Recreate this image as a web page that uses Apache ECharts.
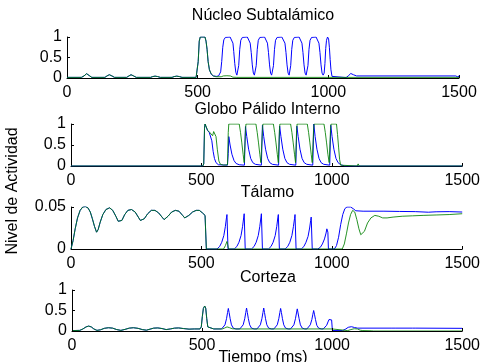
<!DOCTYPE html>
<html>
<head>
<meta charset="utf-8">
<script src="https://cdn.jsdelivr.net/npm/echarts@6/dist/echarts.min.js"></script>
<style>
html, body {margin: 0; padding: 0; background: #fff;}
#chart {width: 483px; height: 362px;}
</style>
</head>
<body>
<div id="chart"></div>
<script>
var titulos = ["Núcleo Subtalámico", "Globo Pálido Interno", "Tálamo", "Corteza"];
var ejeY = ["Nivel de Actividad"], ejeX = ["Tiempo (ms)"];
var maximos = [1, 1, 0.05, 1], pasos = [0.5, 0.5, 0.05, 0.5];

// [tiempo ms, actividad]
var nstComun = [[0,0.015],[55,0.015],[65,0.05],[75,0.105],[85,0.06],[95,0.015],[145,0.015],[153,0.05],[162,0.08],[172,0.05],[182,0.015],[228,0.015],[237,0.05],[245,0.08],[255,0.05],[265,0.015],[320,0.015],[328,0.035],[337,0.045],[347,0.035],[357,0.015],[402,0.015],[410,0.035],[420,0.045],[430,0.035],[440,0.015],[494,0.015],[498,0.05],[502,0.4],[506,0.9],[510,1.0],[528,1.0],[532,0.9],[536,0.7],[540,0.4],[545,0.2]];
var nstAzul = [[552,0.09],[560,0.05],[572,0.04],[580,0.05],[584,0.08],[588,0.15],[592,0.4],[596,0.75],[600,0.93],[606,0.99],[612,1.0],[624,1.0],[630,0.97],[635,0.85],[638,0.65],[642,0.35],[646,0.14],[650,0.07],[654,0.09],[657,0.3],[661,0.7],[665,0.92],[671,0.99],[677,1.0],[690,1.0],[696,0.97],[701,0.85],[705,0.62],[709,0.32],[713,0.12],[717,0.07],[721,0.1],[724,0.3],[728,0.7],[732,0.92],[738,0.99],[744,1.0],[756,1.0],[762,0.97],[767,0.85],[771,0.62],[775,0.32],[779,0.12],[783,0.07],[787,0.1],[790,0.3],[794,0.7],[798,0.92],[804,0.99],[810,1.0],[822,1.0],[829,0.97],[834,0.85],[838,0.62],[842,0.32],[846,0.12],[850,0.07],[853,0.1],[856,0.3],[860,0.7],[864,0.92],[870,0.99],[876,1.0],[888,1.0],[894,0.97],[899,0.85],[903,0.62],[907,0.32],[911,0.12],[915,0.07],[919,0.1],[922,0.3],[926,0.7],[930,0.92],[936,0.99],[942,1.0],[953,1.0],[959,0.97],[964,0.85],[968,0.62],[972,0.32],[976,0.12],[980,0.07],[984,0.12],[987,0.35],[990,0.72],[993,0.92],[997,1.0],[1001,0.95],[1004,0.75],[1007,0.45],[1010,0.2],[1014,0.04],[1018,0.01],[1068,0.01],[1076,0.05],[1086,0.11],[1096,0.08],[1108,0.05],[1488,0.05],[1493,0.01],[1497,0.02],[1500,0.06]];
var nstVerde = [[552,0.1],[560,0.05],[570,0.03],[590,0.03],[598,0.05],[612,0.055],[625,0.05],[635,0.02],[650,0.015],[1500,0.015]];

var gpiAzul = [[0,0],[505,0],[509,0.05],[512,0.9],[514,1.0],[520,0.96],[523,0.85],[530,0.8],[536,0.78],[540,0.6],[545,0.35],[550,0.18],[556,0.08],[565,0.03],[600,0.02],[603,0.3],[605,0.7],[610,0.5],[617,0.28],[625,0.13],[633,0.06],[645,0.03],[665,0.02],[667,0.5],[669,0.94],[674,0.7],[681,0.4],[689,0.18],[697,0.08],[707,0.04],[730,0.02],[732,0.5],[734,0.97],[739,0.7],[746,0.4],[754,0.18],[762,0.08],[772,0.04],[796,0.02],[798,0.5],[800,0.95],[805,0.7],[812,0.4],[820,0.18],[828,0.08],[838,0.04],[862,0.02],[864,0.5],[866,0.95],[871,0.7],[878,0.4],[886,0.18],[894,0.08],[904,0.04],[927,0.02],[929,0.5],[931,1.0],[936,0.7],[943,0.4],[951,0.18],[959,0.08],[969,0.04],[992,0.02],[994,0.5],[996,0.97],[1001,0.7],[1008,0.4],[1016,0.18],[1024,0.08],[1034,0.03],[1050,0],[1096,0],[1100,0.03],[1104,0],[1500,0]];
var gpiVerde = [[0,0],[505,0],[509,0.05],[512,0.9],[514,1.0],[521,1.0],[524,0.85],[532,0.8],[538,0.76],[543,0.72],[547,0.82],[552,0.84],[556,0.7],[561,0.4],[567,0.12],[573,0.04],[585,0.02],[600,0.03],[603,0.8],[605,1.0],[645,1.0],[650,0.8],[655,0.55],[660,0.28],[664,0.08],[667,0.06],[669,0.85],[671,1.0],[709,1.0],[714,0.8],[719,0.55],[724,0.28],[728,0.08],[732,0.06],[734,0.85],[736,1.0],[776,1.0],[781,0.8],[786,0.55],[791,0.28],[795,0.08],[797,0.06],[799,0.85],[801,1.0],[842,1.0],[847,0.8],[852,0.55],[857,0.28],[861,0.08],[863,0.06],[865,0.85],[867,1.0],[906,1.0],[911,0.8],[916,0.55],[921,0.28],[925,0.08],[928,0.06],[930,0.85],[932,1.0],[970,1.0],[975,0.8],[980,0.55],[985,0.28],[990,0.08],[993,0.06],[995,0.85],[997,1.0],[1018,1.0],[1022,0.75],[1026,0.45],[1030,0.15],[1034,0.02],[1040,0],[1097,0],[1101,0.05],[1105,0],[1500,0]];

var talComun = [[0,0],[8,0.01],[16,0.024],[25,0.037],[35,0.046],[45,0.05],[55,0.0505],[65,0.049],[74,0.044],[82,0.036],[90,0.027],[98,0.02],[104,0.023],[112,0.032],[122,0.041],[134,0.047],[148,0.049],[160,0.046],[172,0.039],[181,0.033],[187,0.031],[195,0.034],[206,0.041],[218,0.046],[232,0.047],[246,0.044],[258,0.038],[266,0.034],[272,0.033],[281,0.036],[294,0.042],[308,0.046],[322,0.046],[336,0.043],[349,0.038],[357,0.035],[362,0.035],[372,0.039],[386,0.044],[400,0.046],[414,0.045],[428,0.04],[436,0.037],[441,0.037],[452,0.04],[466,0.044],[480,0.046],[492,0.046],[504,0.043],[514,0.04],[518,0.039],[519,0]];
var talAzul = [[560,0],[570,0.003],[578,0.008],[586,0.016],[592,0.027],[596,0.037],[598,0.041],[600,0.039],[602,0],[626,0],[636,0.003],[644,0.008],[652,0.016],[658,0.027],[662,0.037],[664,0.042],[666,0.04],[668,0],[692,0],[702,0.003],[710,0.008],[718,0.016],[724,0.027],[728,0.037],[730,0.042],[732,0.04],[734,0],[757,0],[767,0.003],[775,0.008],[783,0.016],[789,0.027],[793,0.037],[795,0.041],[797,0.039],[799,0],[821,0],[831,0.003],[839,0.008],[847,0.016],[853,0.027],[857,0.036],[859,0.041],[861,0.039],[863,0],[883,0],[893,0.003],[901,0.008],[909,0.015],[915,0.025],[919,0.034],[921,0.038],[923,0.036],[925,0],[946,0],[956,0.002],[964,0.006],[972,0.012],[978,0.019],[981,0.024],[983,0.025],[985,0.02],[987,0],[1010,0],[1018,0.004],[1026,0.014],[1034,0.029],[1042,0.041],[1050,0.048],[1058,0.05],[1072,0.05],[1082,0.048],[1092,0.0455],[1120,0.045],[1200,0.045],[1260,0.0447],[1320,0.0445],[1370,0.0438],[1400,0.0443],[1450,0.0445],[1500,0.044]];
var talVerde = [[585,0],[592,0.004],[598,0.009],[601,0.005],[604,0],[1040,0],[1048,0.006],[1056,0.018],[1064,0.031],[1072,0.041],[1080,0.046],[1088,0.044],[1096,0.035],[1104,0.024],[1111,0.017],[1117,0.016],[1125,0.021],[1137,0.031],[1150,0.037],[1165,0.04],[1180,0.039],[1195,0.037],[1212,0.037],[1235,0.038],[1270,0.039],[1310,0.0395],[1350,0.04],[1400,0.0405],[1450,0.041],[1500,0.042]];

var ctxComun = [[0,0.01],[30,0.015],[42,0.05],[54,0.1],[64,0.12],[74,0.1],[84,0.05],[96,0.015],[110,0.03],[124,0.065],[140,0.08],[156,0.07],[172,0.035],[188,0.015],[204,0.04],[220,0.07],[236,0.08],[254,0.065],[270,0.035],[286,0.02],[300,0.045],[314,0.07],[330,0.075],[346,0.06],[362,0.035],[378,0.05],[394,0.07],[410,0.075],[428,0.06],[450,0.045],[470,0.05],[492,0.05],[497,0.1],[501,0.35],[505,0.55],[510,0.61],[514,0.56],[518,0.3],[522,0.1],[528,0.06],[545,0.05]];
var ctxAzul = [[575,0.05],[582,0.08],[588,0.15],[594,0.3],[598,0.45],[601,0.55],[604,0.45],[608,0.3],[613,0.15],[620,0.07],[630,0.05],[645,0.05],[652,0.08],[658,0.15],[664,0.3],[668,0.45],[671,0.56],[674,0.45],[678,0.3],[683,0.15],[690,0.07],[700,0.05],[711,0.05],[718,0.08],[724,0.15],[730,0.3],[734,0.45],[737,0.56],[740,0.45],[744,0.3],[749,0.15],[756,0.07],[766,0.05],[776,0.05],[783,0.08],[789,0.15],[795,0.3],[799,0.45],[802,0.55],[805,0.45],[809,0.3],[814,0.15],[821,0.07],[831,0.05],[840,0.05],[847,0.08],[853,0.15],[859,0.3],[863,0.44],[866,0.54],[869,0.44],[873,0.3],[878,0.15],[885,0.07],[895,0.05],[903,0.05],[910,0.08],[916,0.15],[922,0.28],[926,0.41],[929,0.5],[932,0.41],[936,0.28],[941,0.14],[948,0.07],[958,0.05],[966,0.05],[973,0.08],[979,0.14],[984,0.22],[988,0.28],[991,0.29],[998,0.27],[1000,0.25],[1001,0.01],[1040,0.01],[1050,0.04],[1062,0.09],[1074,0.105],[1086,0.085],[1098,0.07],[1230,0.07],[1236,0.06],[1242,0.07],[1310,0.07],[1316,0.06],[1322,0.07],[1500,0.065]];
var ctxVerde = [[578,0.05],[586,0.07],[596,0.1],[606,0.08],[616,0.055],[630,0.05],[1000,0.05],[1002,0.01],[1060,0.01],[1072,0.035],[1085,0.055],[1097,0.05],[1108,0.02],[1118,0.01],[1150,0.005],[1160,0],[1500,0]];

var azules = [nstComun.concat(nstAzul), gpiAzul, talComun.concat(talAzul), ctxComun.concat(ctxAzul)];
var verdes = [nstComun.concat(nstVerde), gpiVerde, talComun.concat(talVerde), ctxComun.concat(ctxVerde)];

var fuente = "'Liberation Sans', Arial, sans-serif";
var chart = echarts.init(document.getElementById("chart"), null, {renderer: "canvas"});

var grids = [
    {left: 67, top: 37, width: 392, height: 41},
    {left: 71, top: 124, width: 393, height: 42},
    {left: 71, top: 207, width: 393, height: 42},
    {left: 72, top: 290, width: 392, height: 41}
];
var tituloY = [16, 110, 193, 278];
var plano = function(v) {return String(v)};

var xAxes = [], yAxes = [], series = [], graphic = [];
grids.forEach(function(g, i) {
    xAxes.push({gridIndex: i, type: "value", min: 0, max: 1500, interval: 500, z: i == 3? 5: 0,
        axisLine: {show: true, onZero: false, lineStyle: {color: "#000", width: 1}},
        axisTick: {show: true, inside: true, length: 3, lineStyle: {color: "#000"}},
        axisLabel: {color: "#000", fontSize: 16, fontFamily: fuente, margin: 7, formatter: plano},
        splitLine: {show: false}});
    yAxes.push({gridIndex: i, type: "value", min: 0, max: maximos[i], interval: pasos[i],
        axisLine: {show: true, onZero: false, lineStyle: {color: "#000", width: 1}},
        axisTick: {show: true, inside: true, length: 3, lineStyle: {color: "#000"}},
        axisLabel: {color: "#000", fontSize: 16, fontFamily: fuente, margin: 5, formatter: plano},
        splitLine: {show: false}});
    series.push({type: "line", xAxisIndex: i, yAxisIndex: i, data: azules[i], showSymbol: false, symbol: "none",
        lineStyle: {color: "#0000ff", width: 1}, itemStyle: {color: "#0000ff"}});
    series.push({type: "line", xAxisIndex: i, yAxisIndex: i, data: verdes[i], showSymbol: false, symbol: "none",
        lineStyle: {color: "#008000", width: 1, opacity: 0.85}, itemStyle: {color: "#008000"}});
    graphic.push({type: "text", x: g.left + g.width / 2, y: tituloY[i],
        style: {text: titulos[i], fill: "#000", font: "16px " + fuente, textAlign: "center", textVerticalAlign: "middle"}});
});
graphic.push({type: "text", x: 263, y: 358,
    style: {text: ejeX[0], fill: "#000", font: "16px " + fuente, textAlign: "center", textVerticalAlign: "middle"}});
graphic.push({type: "text", x: 13, y: 191, rotation: Math.PI / 2,
    style: {text: ejeY[0], fill: "#000", font: "16px " + fuente, textAlign: "center", textVerticalAlign: "middle"}});

chart.setOption({
    animation: false,
    grid: grids,
    xAxis: xAxes,
    yAxis: yAxes,
    series: series,
    graphic: graphic
});
</script>
</body>
</html>
